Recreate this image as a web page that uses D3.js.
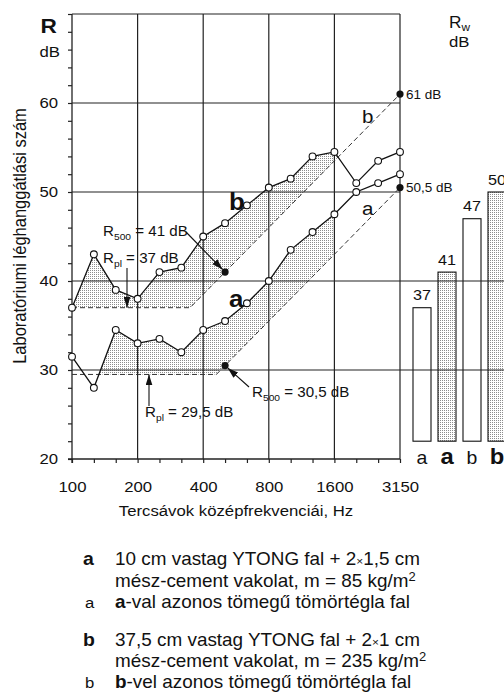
<!DOCTYPE html>
<html>
<head>
<meta charset="utf-8">
<script src="https://cdn.jsdelivr.net/npm/d3@7"></script>
<style>
  body { margin: 0; background: #fff; }
  svg { display: block; font-family: "Liberation Sans", Arial, sans-serif; }
</style>
</head>
<body>
<div id="chart"></div>
<script>
// ---- data ----
var bands = ["100", "125", "160", "200", "250", "315", "400", "500", "630", "800",
             "1000", "1250", "1600", "2000", "2500", "3150"];
var labeledBands = ["100", "200", "400", "800", "1600", "3150"];

// measured curves (dB per third-octave band)
var wallA = [31.5, 28, 34.5, 33, 33.5, 32, 34.5, 35.5, 37.5, 40, 43.5, 45.5, 47.5, 50, 51, 52];
var wallB = [37, 43, 39, 38, 41, 41.5, 45, 46.5, 48.5, 50.5, 51.5, 54, 54.5, 51, 53.5, 54.5];

// reference (dashed) curves: [band index, dB]
var refA = [[0, 29.5], [6.6, 29.5], [15, 50.5]];
var refB = [[0, 37], [5.4, 37], [15, 61]];

// band ranges that are shaded
var shadeA = [1, 12];
var shadeB = [0, 15];

// Rw bars
var barNames = ["a", "A", "b", "B"];   // capitals = bold labels (YTONG)
var barValues = [37, 41, 47, 50];
var barBase = 22;

// ---- setup ----
var W = 504, H = 693;
var SX = 1.08; // horizontal stretch of the lettering

var svg = d3.select("#chart").append("svg")
  .attr("width", W)
  .attr("height", H);

var x = d3.scaleLinear().domain([0, 15]).range([72, 400]);
var y = d3.scaleLinear().domain([20, 70]).range([459, 14]);

// dotted fill
var defs = svg.append("defs");
var pat = defs.append("pattern")
  .attr("id", "dots")
  .attr("width", 2).attr("height", 2)
  .attr("patternUnits", "userSpaceOnUse");
pat.append("rect").attr("width", 2).attr("height", 2).attr("fill", "#fff");
pat.append("rect").attr("width", 1).attr("height", 1).attr("fill", "#8c8c8c");

defs.append("marker")
  .attr("id", "arrow")
  .attr("viewBox", "0 0 11 7")
  .attr("refX", 11).attr("refY", 3.5)
  .attr("markerWidth", 11).attr("markerHeight", 7)
  .attr("markerUnits", "userSpaceOnUse")
  .attr("orient", "auto")
  .append("path")
  .attr("d", "M0,0 L11,3.5 L0,7 Z")
  .attr("fill", "#111");

// text helper
function txt(g, px, py, s, size, anchor, weight) {
  var t = g.append("text")
    .attr("transform", "translate(" + px + "," + py + ") scale(" + SX + ",1)")
    .style("font-size", size + "px")
    .attr("fill", "#111");
  if (anchor) t.attr("text-anchor", anchor);
  if (weight) t.style("font-weight", weight);
  if (s !== null) t.text(s);
  return t;
}

function refAt(ref, t) {
  for (var i = 0; i < ref.length - 1; i++) {
    if (t <= ref[i + 1][0]) {
      var f = (t - ref[i][0]) / (ref[i + 1][0] - ref[i][0]);
      return ref[i][1] + f * (ref[i + 1][1] - ref[i][1]);
    }
  }
  return ref[ref.length - 1][1];
}

function measAt(vals, t) {
  var i = Math.min(Math.floor(t), vals.length - 2);
  var f = t - i;
  return vals[i] * (1 - f) + vals[i + 1] * f;
}

// ---- shaded areas ----
function shade(vals, ref, range) {
  var steps = d3.range(range[0] * 50, range[1] * 50 + 1).map(function (k) { return k / 50; });
  var area = d3.area()
    .x(function (d) { return x(d); })
    .y0(function (d) { return y(refAt(ref, d)); })
    .y1(function (d) { return y(Math.max(measAt(vals, d), refAt(ref, d))); });
  svg.append("path")
    .attr("d", area(steps))
    .attr("fill", "url(#dots)");
}
shade(wallB, refB, shadeB);
shade(wallA, refA, shadeA);

// ---- grid ----
var grid = svg.append("g").attr("stroke", "#222").attr("stroke-width", 1.2);

[3, 6, 9, 12, 15].forEach(function (b) {
  grid.append("line")
    .attr("x1", x(b)).attr("x2", x(b))
    .attr("y1", y(70)).attr("y2", y(20));
});
[30, 40, 50, 60, 70].forEach(function (v) {
  grid.append("line")
    .attr("x1", x(0)).attr("x2", x(15))
    .attr("y1", y(v)).attr("y2", y(v));
});

// ---- axes ----
var yAxis = svg.append("g")
  .attr("transform", "translate(" + x(0) + ",0)")
  .attr("font-family", null)
  .call(d3.axisLeft(y)
    .tickValues(d3.range(20, 71, 2))
    .tickSize(4)
    .tickSizeOuter(0)
    .tickPadding(10)
    .tickFormat(function (d) { return (d % 10 === 0 && d < 70) ? d : ""; }));
yAxis.select(".domain").remove();
yAxis.selectAll("line").attr("stroke", "#222").attr("stroke-width", 1.2);
yAxis.selectAll("text")
  .style("font-size", "15.5px")
  .attr("fill", "#111")
  .attr("x", -14 / SX)
  .attr("transform", "scale(" + SX + ",1)");

svg.append("line")
  .attr("x1", x(0)).attr("x2", x(0))
  .attr("y1", y(70)).attr("y2", y(20) + 4)
  .attr("stroke", "#222").attr("stroke-width", 1.3);
svg.append("line")
  .attr("x1", x(0) - 4).attr("x2", x(15))
  .attr("y1", y(20)).attr("y2", y(20))
  .attr("stroke", "#222").attr("stroke-width", 1.3);

var xAxis = svg.append("g")
  .attr("transform", "translate(0," + y(20) + ")")
  .attr("font-family", null)
  .call(d3.axisBottom(x)
    .tickValues(d3.range(0, 16))
    .tickSize(4)
    .tickSizeOuter(0)
    .tickFormat(function (i) {
      return labeledBands.indexOf(bands[i]) >= 0 ? bands[i] : "";
    }));
xAxis.select(".domain").remove();
xAxis.selectAll("line").attr("stroke", "#222").attr("stroke-width", 1.2);
xAxis.selectAll("text")
  .style("font-size", "15.5px")
  .attr("fill", "#111")
  .attr("y", 33)
  .attr("dy", null)
  .attr("transform", "scale(" + SX + ",1)");

// ---- reference curves ----
var refLine = d3.line()
  .x(function (d) { return x(d[0]); })
  .y(function (d) { return y(d[1]); });

[refA, refB].forEach(function (ref) {
  svg.append("path")
    .attr("d", refLine(ref))
    .attr("fill", "none")
    .attr("stroke", "#333")
    .attr("stroke-width", 1)
    .attr("stroke-dasharray", "5,3");
});

// ---- measured curves ----
var line = d3.line()
  .x(function (d, i) { return x(i); })
  .y(function (d) { return y(d); });

[wallA, wallB].forEach(function (vals) {
  svg.append("path")
    .attr("d", line(vals))
    .attr("fill", "none")
    .attr("stroke", "#111")
    .attr("stroke-width", 1.3);
  svg.append("g").selectAll("circle")
    .data(vals)
    .enter()
    .append("circle")
    .attr("cx", function (d, i) { return x(i); })
    .attr("cy", function (d) { return y(d); })
    .attr("r", 3.4)
    .attr("fill", "#fff")
    .attr("stroke", "#111")
    .attr("stroke-width", 1.1);
});

// filled dots: R500 values and the 3150 Hz ends of the reference curves
var r500A = refAt(refA, 7), r500B = refAt(refB, 7);
var endA = refA[refA.length - 1], endB = refB[refB.length - 1];
[[7, r500A], [7, r500B], endA, endB].forEach(function (p) {
  svg.append("circle")
    .attr("cx", x(p[0]))
    .attr("cy", y(p[1]))
    .attr("r", 3.6)
    .attr("fill", "#111");
});

// ---- annotations ----
function arrow(x1, y1, x2, y2, back) {
  var dx = x2 - x1, dy = y2 - y1, len = Math.sqrt(dx * dx + dy * dy);
  svg.append("line")
    .attr("x1", x1).attr("y1", y1)
    .attr("x2", x2 - dx / len * back).attr("y2", y2 - dy / len * back)
    .attr("stroke", "#111")
    .attr("stroke-width", 1.1)
    .attr("marker-end", "url(#arrow)");
}

function subLabel(px, py, sub, rest) {
  var t = txt(svg, px, py, null, 14);
  t.append("tspan").text("R");
  t.append("tspan").attr("dy", 4).style("font-size", "9.5px").text(sub);
  t.append("tspan").attr("dy", -4).text(rest);
}

subLabel(103, 236, "500", " = 41 dB");
arrow(186, 232, x(7), y(r500B), 3.5);

subLabel(103, 263, "pl", " = 37 dB");
arrow(127, 268, 127, y(refB[0][1]), 0);

subLabel(145, 417, "pl", " = 29,5 dB");
arrow(149, 406, 149, y(refA[0][1]), 0);

subLabel(252, 397, "500", " = 30,5 dB");
arrow(249, 387, x(7), y(r500A), 3.5);

txt(svg, 406, y(endB[1]) + 5, "61 dB", 12.5);
txt(svg, 406, y(endA[1]) + 4, "50,5 dB", 12.5);

txt(svg, 229, 210, "b", 24, null, "bold");
txt(svg, 229, 307, "a", 24, null, "bold");
txt(svg, 362, 123, "b", 19);
txt(svg, 362, 215, "a", 19);

// axis titles
txt(svg, 57, 33, "R", 21, "end", "bold");
txt(svg, 60, 57, "dB", 15.5, "end");
svg.append("text")
  .attr("transform", "translate(26,236) scale(" + SX + ",1) rotate(-90)")
  .attr("text-anchor", "middle")
  .style("font-size", "16.5px")
  .attr("fill", "#111")
  .text("Laboratóriumi léghanggátlási szám");
txt(svg, 236, 516, "Tercsávok középfrekvenciái, Hz", 15.5, "middle");

var rw = txt(svg, 449, 28, null, 16);
rw.append("tspan").text("R");
rw.append("tspan").attr("dy", 3).style("font-size", "11px").text("w");
txt(svg, 449, 47, "dB", 15.5);

// ---- Rw bars ----
var xb = d3.scaleBand()
  .domain(barNames)
  .range([409.5, 509.5])
  .paddingInner(0.28)
  .paddingOuter(0.14);

svg.append("g").selectAll("rect")
  .data(barValues)
  .enter()
  .append("rect")
  .attr("x", function (d, i) { return xb(barNames[i]); })
  .attr("y", function (d) { return y(d); })
  .attr("width", xb.bandwidth())
  .attr("height", function (d) { return y(barBase) - y(d); })
  .attr("fill", function (d, i) { return barNames[i] === barNames[i].toUpperCase() ? "url(#dots)" : "#fff"; })
  .attr("stroke", "#111")
  .attr("stroke-width", 1.1);

// gridlines run on across the bar panel
[30, 40].forEach(function (v) {
  svg.append("line")
    .attr("x1", x(15)).attr("x2", W)
    .attr("y1", y(v)).attr("y2", y(v))
    .attr("stroke", "#222").attr("stroke-width", 1.2);
});

barValues.forEach(function (v, i) {
  var cx = xb(barNames[i]) + xb.bandwidth() / 2;
  txt(svg, cx, y(v) - 7.5, String(v), 15, "middle");
  var bold = barNames[i] === barNames[i].toUpperCase();
  txt(svg, cx, 464, barNames[i].toLowerCase(), bold ? 22 : 18, "middle", bold ? "bold" : null);
});

// ---- legend ----
function legendLine(py, parts) {
  var t = txt(svg, 115, py, null, 17.5);
  parts.forEach(function (p) {
    var s = t.append("tspan").text(p.t);
    if (p.b) s.style("font-weight", "bold");
    if (p.fs) s.style("font-size", p.fs + "px");
    if (p.dy) s.attr("dy", p.dy);
  });
}

txt(svg, 83, 565, "a", 18, null, "bold");
legendLine(565, [{t: "10 cm vastag YTONG fal + 2"}, {t: "×", fs: 11}, {t: "1,5 cm"}]);
legendLine(587, [{t: "mész-cement vakolat, m = 85 kg/m"}, {t: "2", fs: 12, dy: -6}]);
txt(svg, 85, 608, "a", 15.5);
legendLine(608, [{t: "a", b: true}, {t: "-val azonos tömegű tömörtégla fal"}]);

txt(svg, 83, 646, "b", 18, null, "bold");
legendLine(646, [{t: "37,5 cm vastag YTONG fal + 2"}, {t: "×", fs: 11}, {t: "1 cm"}]);
legendLine(667, [{t: "mész-cement vakolat, m = 235 kg/m"}, {t: "2", fs: 12, dy: -6}]);
txt(svg, 85, 688, "b", 15.5);
legendLine(688, [{t: "b", b: true}, {t: "-vel azonos tömegű tömörtégla fal"}]);
</script>
</body>
</html>
